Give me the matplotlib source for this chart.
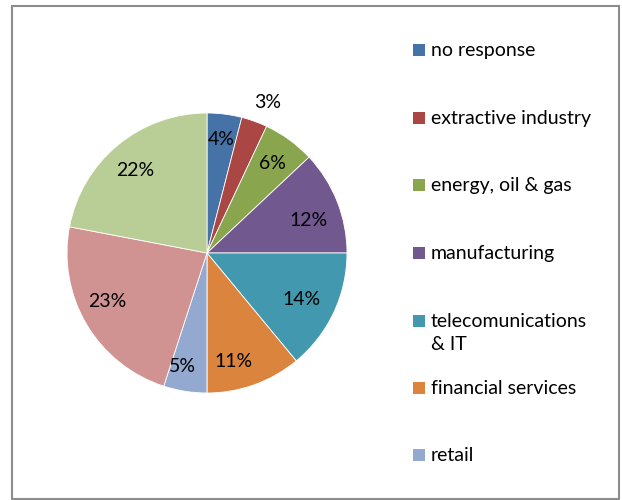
import matplotlib.pyplot as plt
import numpy as np
from matplotlib.patches import Rectangle

plt.rcParams["font.family"] = ["Lato", "DejaVu Sans"]

# sectors, clockwise from 12 o'clock
sectors = [
    "no response",
    "extractive industry",
    "energy, oil & gas",
    "manufacturing",
    "telecomunications\n& IT",
    "financial services",
    "retail",
    "public sector",
    "other",
]
shares = [4, 3, 6, 12, 14, 11, 5, 23, 22]
colours = [
    "#4572a7",
    "#aa4643",
    "#89a54e",
    "#71588f",
    "#4198af",
    "#db843d",
    "#93a9cf",
    "#d19392",
    "#b9cd96",
]
# percentage label placement: radius (fraction of pie radius), angle shift (deg)
label_r = [0.82, 1.16, 0.79, 0.76, 0.75, 0.80, 0.83, 0.79, 0.78]
label_shift = [0, -2, 0, -4, -1, -6, -3, -4.5, 1.5]
# only the first seven entries fit in the legend box
n_legend = 7

W, H = 622, 500
fs = 14
fig = plt.figure(figsize=(W / 100, H / 100), dpi=100)

# outer frame
fig.patches.append(
    Rectangle((12 / W, 1 / H), 607 / W, 493 / H, transform=fig.transFigure,
              fill=False, edgecolor="#8c8c8c", linewidth=1.5)
)

cx, cy, R = 207, 253, 140
ax = fig.add_axes([(cx - R) / W, (H - cy - R) / H, 2 * R / W, 2 * R / H])
wedges, _ = ax.pie(
    shares,
    colors=colours,
    startangle=90,
    counterclock=False,
    wedgeprops=dict(edgecolor="white", linewidth=0.6),
)
ax.set_xlim(-1, 1)
ax.set_ylim(-1, 1)
ax.set_aspect("equal")
ax.axis("off")

for w, v, r, s in zip(wedges, shares, label_r, label_shift):
    ang = np.deg2rad((w.theta1 + w.theta2) / 2 + s)
    ax.text(r * np.cos(ang), r * np.sin(ang), f"{v}%", ha="center", va="center",
            fontsize=fs, color="black")

# legend
ys = [50, 118, 185, 253, 321, 388, 455]
for name, col, y in zip(sectors[:n_legend], colours[:n_legend], ys):
    fig.patches.append(
        Rectangle((413 / W, (H - y - 6) / H), 12 / W, 12 / H,
                  transform=fig.transFigure, facecolor=col, edgecolor="none")
    )
    fig.text(431 / W, (H - y + 8) / H, name, ha="left", va="top",
             fontsize=fs, linespacing=1.45)

fig.savefig("out.png", dpi=100)
